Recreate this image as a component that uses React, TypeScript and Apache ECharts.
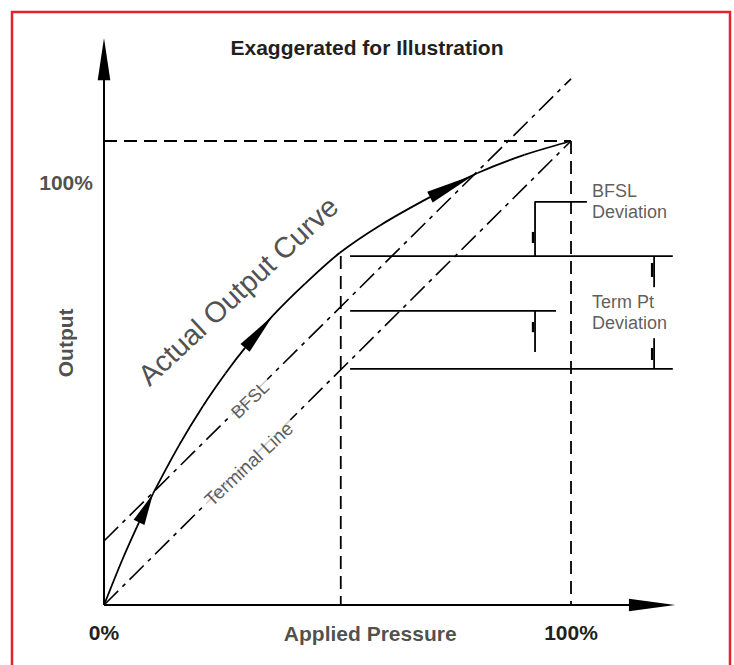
import { useEffect, useRef } from "react";
import * as echarts from "echarts";

// ---- data (normalised: 1 = 100%) ----
const curveU = [0, 0.039, 0.075, 0.105, 0.16, 0.212, 0.26, 0.302, 0.362, 0.43, 0.505, 0.591, 0.698, 0.8, 0.9, 1];
const curveV = [0, 0.097, 0.178, 0.24, 0.343, 0.429, 0.499, 0.554, 0.624, 0.692, 0.759, 0.818, 0.879, 0.931, 0.97, 1];

const terminalLine = [[0, 0], [1, 1]];
const bfslLine = [[0, 0.138], [1.0, 1.134]];
const fullScaleH = [[0, 1], [1, 1]];
const fullScaleV = [[1, 1], [1, 0]];
const midPressureV = [[0.507, 0.752], [0.507, 0]];
const curveLevel = [[0.527, 0.752], [1.218, 0.752]];
const bfslLevel = [[0.527, 0.634], [0.968, 0.634]];
const terminalLevel = [[0.527, 0.509], [1.218, 0.509]];
const bfslDevBracket = [[0.923, 0.752], [0.923, 0.869], [1.034, 0.869]];
const bfslDevLower = [[0.923, 0.634], [0.923, 0.545]];
const termDevUpper = [[1.178, 0.752], [1.178, 0.685]];
const termDevLower = [[1.178, 0.575], [1.178, 0.509]];
const xAxisLine = [[0, 0], [1.2, 0]];
const yAxisLine = [[0, 0], [0, 1.2]];

// arrowheads: [tipU, tipV, baseU, baseV]
const curveArrows = [
  [0.105, 0.24, 0.075, 0.178],
  [0.362, 0.624, 0.302, 0.554],
  [0.793, 0.927, 0.698, 0.879],
];
const axisArrows = [
  [1.223, 0, 1.124, 0],
  [0, 1.222, 0, 1.131],
];
// small deviation marks: [u, vTop, vBottom]
const devMarks = [
  [0.923, 0.804, 0.78],
  [0.923, 0.61, 0.588],
  [1.178, 0.737, 0.707],
  [1.178, 0.554, 0.528],
];

const xTickLabels: Record<string, string> = { "0": "0%", "1": "100%" };
const titleText = "Exaggerated for Illustration";

const FONT = '"Liberation Sans", Arial, Helvetica, sans-serif';
const DARK = "#231f20";
const GRAY = "#333333";

export default function App() {
  const ref = useRef<HTMLDivElement>(null);
  useEffect(() => {
    document.body.style.margin = "0";
    const chart = echarts.init(ref.current!, undefined, { renderer: "svg" });

    const seg = (data: number[][], dash: any, width = 1.8) => ({
      type: "line",
      data,
      showSymbol: false,
      symbol: "none",
      silent: true,
      clip: false,
      lineStyle: { color: "#000", width, type: dash },
      z: 3,
    });

    const arrowRender = (hw: number) => (params: any, api: any) => {
      const tip = api.coord([api.value(0), api.value(1)]);
      const base = api.coord([api.value(2), api.value(3)]);
      const dx = tip[0] - base[0];
      const dy = tip[1] - base[1];
      const len = Math.hypot(dx, dy) || 1;
      const nx = (-dy / len) * hw;
      const ny = (dx / len) * hw;
      return {
        type: "polygon",
        shape: { points: [tip, [base[0] + nx, base[1] + ny], [base[0] - nx, base[1] - ny]] },
        style: { fill: "#000" },
      };
    };

    // smooth curve through the read points, one cubic segment per point
    const curveRender = (params: any, api: any) => {
      const n = curveU.length;
      const i = params.dataIndex;
      if (i >= n - 1) return null;
      const P = (k: number) => {
        const j = Math.max(0, Math.min(n - 1, k));
        return api.coord([curveU[j], curveV[j]]);
      };
      const p0 = P(i - 1), p1 = P(i), p2 = P(i + 1), p3 = P(i + 2);
      const segLen = Math.hypot(p2[0] - p1[0], p2[1] - p1[1]);
      const unit = (a: number[], b: number[]) => {
        const l = Math.hypot(b[0] - a[0], b[1] - a[1]) || 1;
        return [(b[0] - a[0]) / l, (b[1] - a[1]) / l];
      };
      const t1 = unit(p0, p2);
      const t2 = unit(p1, p3);
      return {
        type: "bezierCurve",
        shape: {
          x1: p1[0], y1: p1[1], x2: p2[0], y2: p2[1],
          cpx1: p1[0] + (t1[0] * segLen) / 3, cpy1: p1[1] + (t1[1] * segLen) / 3,
          cpx2: p2[0] - (t2[0] * segLen) / 3, cpy2: p2[1] - (t2[1] * segLen) / 3,
        },
        style: { stroke: "#000", lineWidth: 1.8, fill: "none" },
      };
    };

    const lbl = (value: number[], text: string, extra: any) => ({
      value,
      label: {
        show: true,
        formatter: text,
        fontFamily: FONT,
        ...extra,
      },
    });

    const annotations = [
      lbl([0.287, 0.677], "Actual Output Curve", { position: "inside", rotate: 43, fontSize: 29, color: "#222" }),
      lbl([0.313, 0.442], "BFSL", { position: "inside", rotate: 44, fontSize: 18, color: GRAY, backgroundColor: "#fff", padding: [0, 4] }),
      lbl([0.31, 0.304], "Terminal Line", { position: "inside", rotate: 43, fontSize: 19, color: GRAY, backgroundColor: "#fff", padding: [0, 4] }),
      lbl([1.045, 0.869], "BFSL\nDeviation", { position: "right", distance: 0, align: "left", fontSize: 18, lineHeight: 21, color: GRAY }),
      lbl([1.045, 0.63], "Term Pt\nDeviation", { position: "right", distance: 0, align: "left", fontSize: 18, lineHeight: 21, color: GRAY }),
      lbl([-0.0236, 0.91], "100%", { position: "left", distance: 0, fontSize: 21, fontWeight: "bold", color: DARK }),
      lbl([-0.0835, 0.565], "Output", { position: "inside", rotate: 90, fontSize: 21, fontWeight: "bold", color: DARK }),
      lbl([0.57, -0.061], "Applied Pressure", { position: "inside", fontSize: 21, fontWeight: "bold", color: DARK }),
    ];

    chart.setOption({
      animation: false,
      backgroundColor: "#fff",
      title: {
        text: titleText,
        left: "center",
        top: 32,
        textStyle: { fontFamily: FONT, fontSize: 21, fontWeight: "bold", color: DARK },
      },
      graphic: [
        {
          type: "rect",
          shape: { x: 12, y: 12, width: 718, height: 720 },
          style: { fill: "none", stroke: "#e8202a", lineWidth: 2.5 },
          silent: true,
        },
      ],
      grid: { left: 104, top: 25, width: 583.75, height: 580, containLabel: false },
      xAxis: {
        type: "value",
        min: 0,
        max: 1.25,
        interval: 0.25,
        axisLine: { show: false },
        axisTick: { show: false },
        splitLine: { show: false },
        axisLabel: {
          show: true,
          margin: 17,
          fontFamily: FONT,
          fontSize: 21,
          fontWeight: "bold",
          color: DARK,
          formatter: (v: number) => xTickLabels[String(v)] ?? "",
        },
      },
      yAxis: {
        type: "value",
        min: 0,
        max: 1.25,
        show: false,
      },
      series: [
        seg(xAxisLine, "solid", 2),
        seg(yAxisLine, "solid", 2),
        seg(fullScaleH, [13, 7], 1.8),
        seg(fullScaleV, [13, 7], 1.8),
        seg(midPressureV, [13, 7], 1.8),
        seg(terminalLine, [20, 6, 4, 6], 1.6),
        seg(bfslLine, [20, 6, 4, 6], 1.6),
        seg(curveLevel, "solid", 1.8),
        seg(bfslLevel, "solid", 1.8),
        seg(terminalLevel, "solid", 1.8),
        seg(bfslDevBracket, "solid", 1.8),
        seg(bfslDevLower, "solid", 1.8),
        seg(termDevUpper, "solid", 1.8),
        seg(termDevLower, "solid", 1.8),
        {
          type: "custom",
          data: curveU.map((u, i) => [u, curveV[i]]),
          encode: { x: 0, y: 1 },
          renderItem: curveRender,
          silent: true,
          z: 4,
        },
        {
          type: "custom",
          data: curveArrows,
          encode: { x: [0, 2], y: [1, 3] },
          renderItem: arrowRender(6),
          silent: true,
          z: 5,
        },
        {
          type: "custom",
          data: axisArrows,
          encode: { x: [0, 2], y: [1, 3] },
          renderItem: arrowRender(6.3),
          silent: true,
          z: 5,
        },
        {
          type: "custom",
          data: devMarks,
          encode: { x: 0, y: [1, 2] },
          renderItem: (params: any, api: any) => {
            const top = api.coord([api.value(0), api.value(1)]);
            const bot = api.coord([api.value(0), api.value(2)]);
            return {
              type: "rect",
              shape: { x: top[0] - 3.2, y: top[1], width: 2.4, height: bot[1] - top[1] },
              style: { fill: "#000" },
            };
          },
          silent: true,
          z: 5,
        },
        {
          type: "scatter",
          data: annotations,
          symbolSize: 0,
          clip: false,
          silent: true,
          z: 6,
        },
      ],
    });
    return () => chart.dispose();
  }, []);
  return <div ref={ref} style={{ width: 734, height: 665 }} />;
}
